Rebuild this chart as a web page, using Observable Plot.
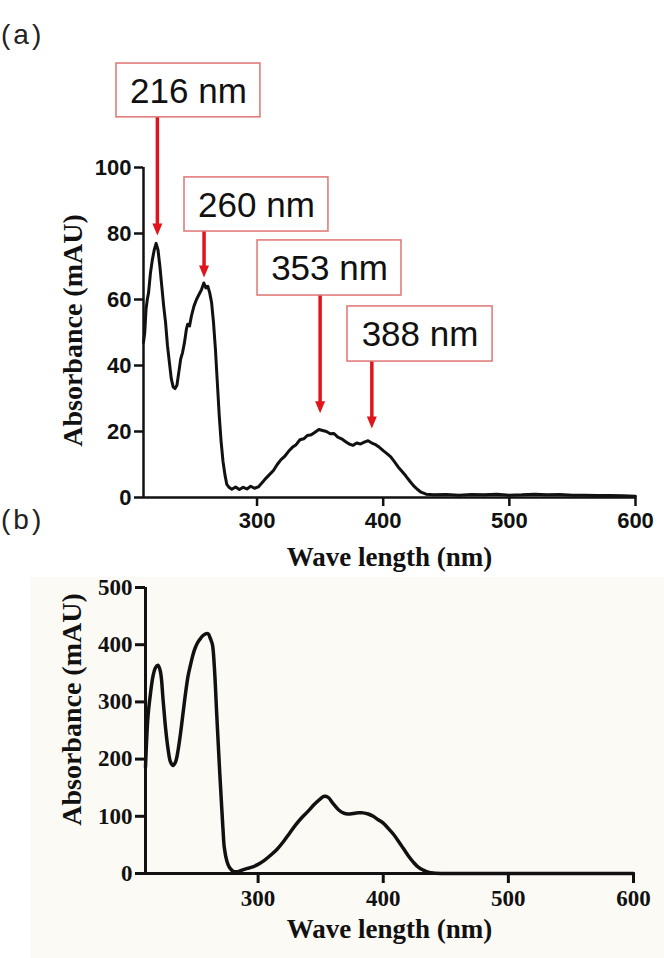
<!DOCTYPE html>
<html><head><meta charset="utf-8">
<script src="https://cdn.jsdelivr.net/npm/d3@7"></script>
<script src="https://cdn.jsdelivr.net/npm/@observablehq/plot@0.6"></script>
<style>
body{margin:0;background:#fff;}
#wrap{position:relative;width:664px;height:958px;overflow:hidden;background:#fff;}
#pa,#pb{position:absolute;}
#pa{left:0;top:0;}
#pb{left:30px;top:577px;}
svg{display:block;}
.tag{position:absolute;font-family:"Liberation Sans",Arial,sans-serif;font-size:28px;letter-spacing:3px;color:#222;line-height:1;}
</style></head><body>
<div id="wrap">
  <div id="pa"></div>
  <div id="pb"></div>
  <span class="tag" style="left:1px;top:21px">(a)</span>
  <span class="tag" style="left:1px;top:506px">(b)</span>
</div>
<script>
// ---------- Panel (a) data ----------
const aWavelength = [210,211,212,213,214,215.5,217,218.5,220,221.5,223,224.5,226,227.5,229,230.5,232,233.5,235,236.5,238,239.5,241,242.5,244,245,246.5,248,250,252,254,256,257.8,259.5,261,262.5,264,265.5,267,268.5,270,271.5,273,274.5,276,278,280,283,286,289,292,295,298,301,304,307,310,313,316,319,322,325,328,331,334,337,340,343,346,349,352,355,358,361,364,367,370,373,376,379,382,385,388,391,394,397,400,403,406,409,412,415,418,421,424,427,430,434,440,450,460,470,480,490,500,510,520,530,540,550,560,570,580,590,600];
const aAbsorbance = [47,50,57,60,62,68,72,75,77,75,70,64,58,53,46,41,36,33.5,33,34,38,42,44,47,51,52.5,52,55,58,60,61.5,63,65,63.5,64,62,59,53,45,35,25,17,11,7,4,3,2.5,3.2,2.4,3.1,2.6,3.4,2.8,3.2,4.5,5.8,7.0,8.2,10.0,11.5,12.5,14.0,15.2,16.0,17.5,17.8,18.8,19.0,19.8,20.6,20.3,20.0,19.3,19.4,18.3,17.8,17.0,16.2,15.8,16.5,16.2,16.8,17.2,16.5,16.0,15.2,14.2,13.3,12.3,10.8,9.2,7.9,6.5,5.0,3.6,2.5,1.6,1.0,0.8,0.9,0.7,0.9,0.8,1.0,0.7,0.8,1.0,0.8,0.9,0.7,0.7,0.6,0.6,0.5,0.4];

const aXTicks = [300,400,500,600];
const aYTicks = [0,20,40,60,80,100];

// peak annotations (data units)
const peakLabels = ["216 nm","260 nm","353 nm","388 nm"];
const arrowX = [221, 258, 350, 391];
const arrowTip = [79.4, 66.7, 25.5, 20.9];
const boxX1 = [188.6, 242.5, 300.4, 371.7];
const boxX2 = [302.7, 356.6, 414.5, 486.7];
const boxTop = [131.5, 97.0, 77.9, 57.9];
const boxBottom = [115.2, 80.6, 61.2, 41.2];

// ---------- Panel (b) data ----------
const bWavelength = [210,212,214,216,218,220,222,224,226,228,230,232,234,236,238,240,242,244,246,248,250,252,254,256,258,260,262,263.5,265,267,269,271,272,273,275,277,280,283,286,290,295,300,305,310,315,320,325,330,335,340,345,350,353,356,360,364,368,372,376,380,384,388,392,396,400,404,408,412,416,420,424,428,432,436,440,450,470,500,530,560,600];
const bAbsorbance = [186,275,315,345,360,364,352,305,255,218,195,189,195,215,245,280,315,345,365,383,396,405,411,416,419,419,410,400,362,275,190,112,75,45,22,11,4,3,5,8,11,16,23,32,42,55,70,85,98,109,121,131,135,133,122,112,106,104,105,106,106,104,100,94,88,79,69,57,44,31,20,11,6,2.5,1,0,0,0,0,0,0];

const bXTicks = [300,400,500,600];
const bYTicks = [0,100,200,300,400,500];

// ---------- build tables ----------
const aData = aWavelength.map((w,i)=>({w, v:aAbsorbance[i]}));
const bData = bWavelength.map((w,i)=>({w, v:bAbsorbance[i]}));
const peaks = peakLabels.map((t,i)=>({
  t, ax:arrowX[i], tip:arrowTip[i], x1:boxX1[i], x2:boxX2[i], yT:boxTop[i], yB:boxBottom[i]
}));

const SANS = "Liberation Sans, Arial, Helvetica, sans-serif";
const SERIF = "Liberation Serif, Times New Roman, serif";
const RED = "#e2141b";
const INK = "#111";

const plotA = Plot.plot({
  width: 664, height: 578,
  marginLeft: 143, marginRight: 29, marginTop: 167, marginBottom: 81,
  x: {domain: [210, 600]},
  y: {domain: [0, 100]},
  style: {background: "transparent", color: INK, overflow: "visible"},
  marks: [
    Plot.axisX({ticks: aXTicks, tickSize: 9, tickPadding: 6, strokeWidth: 2.5, fontSize: 22, fontWeight: "bold", fontFamily: SANS, label: null, tickFormat: d => String(d)}),
    Plot.axisY({ticks: aYTicks, tickSize: 9, tickPadding: 3, strokeWidth: 2.5, fontSize: 22, fontWeight: "bold", fontFamily: SANS, label: null}),
    Plot.ruleX([210], {strokeWidth: 2.5, stroke: INK}),
    Plot.ruleY([0], {strokeWidth: 2.5, stroke: INK}),
    Plot.line(aData, {x: "w", y: "v", stroke: INK, strokeWidth: 3, strokeLinejoin: "round"}),
    Plot.ruleX(peaks, {x: "ax", y1: "yB", y2: d => d.tip + 2.5, stroke: RED, strokeWidth: 3.5}),
    Plot.vector(peaks, {x: "ax", y: "tip", rotate: 180, anchor: "end", shape: "spike", length: 12, r: 5, fill: RED, stroke: "none"}),
    Plot.rect(peaks, {x1: "x1", x2: "x2", y1: "yB", y2: "yT", fill: "#fff", stroke: "#e07474", strokeWidth: 1.5}),
    Plot.text(peaks, {x: d => (d.x1 + d.x2) / 2, y: d => (d.yT + d.yB) / 2, dy: 1, text: "t", fontSize: 35, fontFamily: SANS, fill: INK}),
    Plot.text(["Wave length (nm)"], {frameAnchor: "bottom", dy: 68, lineAnchor: "bottom", fontSize: 27, fontWeight: "bold", fontFamily: SERIF, fill: INK, letterSpacing: "1px"}),
    Plot.text(["Absorbance (mAU)"], {frameAnchor: "left", textAnchor: "middle", dx: -70, dy: -2, rotate: -90, fontSize: 28, fontWeight: "bold", fontFamily: SERIF, fill: INK, letterSpacing: "1px"})
  ]
});
document.getElementById("pa").append(plotA);

const plotB = Plot.plot({
  width: 634, height: 381,
  marginLeft: 115, marginRight: 31, marginTop: 10, marginBottom: 85,
  x: {domain: [210, 600]},
  y: {domain: [0, 500]},
  style: {background: "#fcfaf5", color: INK, overflow: "visible"},
  marks: [
    Plot.axisX({ticks: bXTicks, tickSize: 10, tickPadding: 6, strokeWidth: 3, fontSize: 23, fontWeight: "bold", fontFamily: SERIF, label: null, tickFormat: d => String(d)}),
    Plot.axisY({ticks: bYTicks, tickSize: 10, tickPadding: 3, strokeWidth: 3, fontSize: 23, fontWeight: "bold", fontFamily: SERIF, label: null}),
    Plot.ruleX([210], {strokeWidth: 3, stroke: INK}),
    Plot.ruleY([0], {strokeWidth: 3, stroke: INK}),
    Plot.line(bData, {x: "w", y: "v", stroke: INK, strokeWidth: 3.5, curve: "catmull-rom", strokeLinejoin: "round"}),
    Plot.text(["Wave length (nm)"], {frameAnchor: "bottom", dy: 64, lineAnchor: "bottom", fontSize: 27, fontWeight: "bold", fontFamily: SERIF, fill: INK, letterSpacing: "1px"}),
    Plot.text(["Absorbance (mAU)"], {frameAnchor: "left", textAnchor: "middle", dx: -73, dy: -21, rotate: -90, fontSize: 28, fontWeight: "bold", fontFamily: SERIF, fill: INK, letterSpacing: "1px"})
  ]
});
document.getElementById("pb").append(plotB);
</script>
</body></html>
